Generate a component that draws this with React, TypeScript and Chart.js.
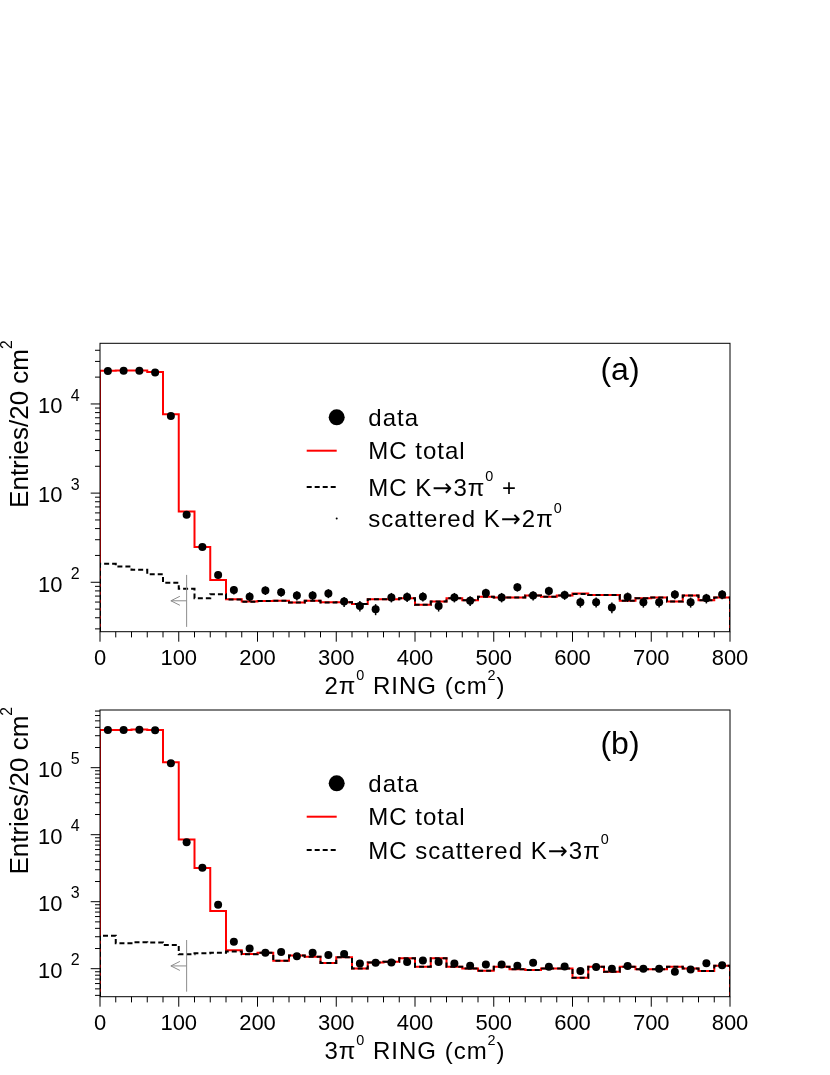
import React, { useEffect, useRef } from "react";
import { Chart, registerables } from "chart.js";

Chart.register(...registerables);

const FONT = '"Liberation Sans", Arial, Helvetica, sans-serif';
const ARROW_FONT = '"DejaVu Sans", sans-serif';

// ---------- shared axis data ----------
const binEdges = [0, 20, 40, 60, 80, 100, 120, 140, 160, 180, 200, 220, 240, 260, 280, 300, 320, 340, 360, 380, 400,
  420, 440, 460, 480, 500, 520, 540, 560, 580, 600, 620, 640, 660, 680, 700, 720, 740, 760, 780, 800];
const binCenters = [10, 30, 50, 70, 90, 110, 130, 150, 170, 190, 210, 230, 250, 270, 290, 310, 330, 350, 370, 390,
  410, 430, 450, 470, 490, 510, 530, 550, 570, 590, 610, 630, 650, 670, 690, 710, 730, 750, 770, 790];
const xTickValues = [0, 100, 200, 300, 400, 500, 600, 700, 800];
const xTickLabels = ["0", "100", "200", "300", "400", "500", "600", "700", "800"];

// ---------- panel (a): 2pi0 ring ----------
const dataA = [23400, 23500, 23500, 22600, 7330, 572, 248, 121, 82, 69, 81, 77.5, 71, 71, 75, 60.7, 54.3, 49.8, 67.7, 68.5,
  69, 54.3, 67.7, 62, 76, 67.7, 88, 71, 80, 72, 59.7, 59.7, 52, 68.5, 59.7, 59.7, 73, 59.7, 66, 73];
const mcTotalA = [23500, 23700, 23700, 22800, 7660, 620, 248, 106, 64.5, 60.7, 61.5, 62, 59.5, 62, 59.7, 59.7, 57, 64.5, 64.5, 66,
  56, 60.7, 66, 63, 69, 67.7, 67.7, 71, 69, 71, 75, 72, 72, 62, 66, 67.7, 60.7, 71, 63, 67.7];
const mcBkgA = [161, 150, 138, 123, 99, 84.4, 66.4, 73.5, 64, 60.5, 61.5, 62, 59.5, 62, 59.5, 59.7, 57, 64.5, 64.5, 66,
  56, 60.7, 66, 63, 69, 67.7, 67.7, 71, 69, 71, 74, 72, 72, 62, 66, 67.7, 60.7, 71, 63, 67.7];
const yDecadesA = [2, 3, 4];
const yRangeA = [27.9, 47900];
const cutA = { x: 110, tipX: 90, yTop: 121, yBottom: 31.6, yArrow: 62 };

// ---------- panel (b): 3pi0 ring ----------
const dataB = [365000, 365000, 369000, 361000, 116000, 7690, 3210, 902, 253, 201, 173, 177, 153, 173, 160, 166, 120, 123, 124, 126,
  132, 126, 120, 111, 116, 116, 111, 123, 107, 108, 92, 106, 100, 110, 100, 100, 90, 97, 121, 113];
const mcTotalB = [365000, 365000, 372000, 365000, 121000, 8510, 3180, 727, 188, 166, 173, 131, 158, 151, 122, 148, 101, 124, 127, 143,
  107, 143, 107, 101, 93, 107, 98, 95.5, 101, 101, 73, 107, 90, 107, 98, 98, 107, 101, 92, 111];
const mcBkgB = [311, 240, 248, 246, 226, 164, 170, 173, 180, 164, 173, 131, 158, 151, 122, 148, 101, 124, 127, 143,
  107, 143, 107, 101, 93, 107, 98, 95.5, 101, 101, 73, 107, 90, 107, 98, 98, 107, 101, 92, 111];
const yDecadesB = [2, 3, 4, 5];
const yRangeB = [38.2, 726000];
const cutB = { x: 110, tipX: 90, yTop: 268, yBottom: 45.4, yArrow: 110 };

// ---------- helpers ----------
type Seg = { t: string; sup?: boolean; arrow?: boolean };
type LegendItem = { kind: "dot" | "line" | "dash" | "tiny"; y: number; text: Seg[] };

function segFont(s: Seg, size: number) {
  const sz = s.sup ? size * 0.6 : size;
  return `${sz}px ${s.arrow ? ARROW_FONT : FONT}`;
}

function drawRich(ctx: CanvasRenderingContext2D, segs: Seg[], x: number, y: number, size: number,
  align: "left" | "center" | "right", spacing = 0) {
  (ctx as any).letterSpacing = spacing + "px";
  const widths = segs.map((s) => {
    ctx.font = segFont(s, size);
    return ctx.measureText(s.t).width;
  });
  const total = widths.reduce((a, b) => a + b, 0);
  let cx = align === "center" ? x - total / 2 : align === "right" ? x - total : x;
  ctx.textAlign = "left";
  ctx.textBaseline = "alphabetic";
  segs.forEach((s, i) => {
    ctx.font = segFont(s, size);
    ctx.fillText(s.t, cx, s.sup ? y - size * 0.6 : y);
    cx += widths[i];
  });
  (ctx as any).letterSpacing = "0px";
}

function histPoints(vals: number[], floor: number) {
  const pts: { x: number; y: number }[] = [{ x: binEdges[0], y: floor }];
  vals.forEach((v, i) => {
    pts.push({ x: binEdges[i], y: v });
    pts.push({ x: binEdges[i + 1], y: v });
  });
  pts.push({ x: binEdges[vals.length], y: floor });
  return pts;
}

interface PanelCfg {
  top: number;
  height: number;
  padTop: number;
  padBottom: number;
  yRange: number[];
  decades: number[];
  data: number[];
  total: number[];
  bkg: number[];
  cut: { x: number; tipX: number; yTop: number; yBottom: number; yArrow: number };
  legend: LegendItem[];
  tag: string;
  tagBaseline: number;
  xTitle: Seg[];
}

function line(ctx: CanvasRenderingContext2D, x1: number, y1: number, x2: number, y2: number) {
  ctx.beginPath();
  ctx.moveTo(x1, y1);
  ctx.lineTo(x2, y2);
  ctx.stroke();
}

function makeDecor(cfg: PanelCfg) {
  return {
    id: "decor",
    afterDatasetsDraw(chart: any) {
      const ctx: CanvasRenderingContext2D = chart.ctx;
      const xs = chart.scales.x;
      const ys = chart.scales.y;
      ctx.save();
      ctx.strokeStyle = "#000";
      ctx.lineWidth = 1.5;
      cfg.data.forEach((v, i) => {
        const err = Math.sqrt(v); // Poisson uncertainty
        const px = xs.getPixelForValue(binCenters[i]);
        line(ctx, px, ys.getPixelForValue(v + err), px, ys.getPixelForValue(Math.max(v - err, cfg.yRange[0])));
      });
      ctx.restore();
    },
    afterDraw(chart: any) {
      const ctx: CanvasRenderingContext2D = chart.ctx;
      const a = chart.chartArea;
      const xs = chart.scales.x;
      const ys = chart.scales.y;
      const off = cfg.top;
      ctx.save();
      ctx.fillStyle = "#000";
      ctx.strokeStyle = "#000";
      ctx.lineWidth = 1;
      // frame
      ctx.strokeRect(a.left, a.top, a.right - a.left, a.bottom - a.top);
      // x ticks
      for (let v = binEdges[0]; v <= binEdges[binEdges.length - 1]; v += 20) {
        const px = xs.getPixelForValue(v);
        line(ctx, px, a.bottom, px, a.bottom + (v % 100 === 0 ? 10 : 5.7));
      }
      ctx.font = `22px ${FONT}`;
      ctx.textAlign = "center";
      ctx.textBaseline = "alphabetic";
      xTickValues.forEach((v, i) => ctx.fillText(xTickLabels[i], xs.getPixelForValue(v), a.bottom + 33.3));
      // y ticks (log)
      const e0 = Math.floor(Math.log10(cfg.yRange[0]));
      const e1 = Math.ceil(Math.log10(cfg.yRange[1]));
      for (let e = e0; e <= e1; e++) {
        for (let m = 1; m <= 9; m++) {
          const v = m * Math.pow(10, e);
          if (v < cfg.yRange[0] || v > cfg.yRange[1]) continue;
          const py = ys.getPixelForValue(v);
          line(ctx, a.left - (m === 1 ? 9.3 : 5), py, a.left, py);
        }
      }
      cfg.decades.forEach((e) => {
        const py = ys.getPixelForValue(Math.pow(10, e));
        ctx.font = `22px ${FONT}`;
        ctx.textAlign = "right";
        ctx.fillText("10", a.left - 37.5, py + 9.3);
        ctx.font = `16px ${FONT}`;
        ctx.textAlign = "left";
        ctx.fillText(String(e), a.left - 29.3, py - 3.3);
      });
      // y title
      ctx.save();
      ctx.translate(28, a.top - 3);
      ctx.rotate(-Math.PI / 2);
      drawRich(ctx, [{ t: "Entries/20 cm" }, { t: "2", sup: true }], 0, 0, 26, "right", 0);
      ctx.restore();
      // x title
      drawRich(ctx, cfg.xTitle, (a.left + a.right) / 2, a.bottom + 62.3, 24, "center", 1);
      // panel tag
      drawRich(ctx, [{ t: cfg.tag }], 620, cfg.tagBaseline - off, 32, "center");
      // legend
      cfg.legend.forEach((it) => {
        const y = it.y - off;
        if (it.kind === "dot") {
          ctx.beginPath();
          ctx.arc(336.7, y, 8, 0, Math.PI * 2);
          ctx.fill();
        } else if (it.kind === "tiny") {
          ctx.beginPath();
          ctx.arc(336.7, y, 1, 0, Math.PI * 2);
          ctx.fill();
        } else {
          ctx.save();
          ctx.lineWidth = 2;
          ctx.strokeStyle = it.kind === "line" ? "#ff0000" : "#000";
          if (it.kind === "dash") ctx.setLineDash([5, 3]);
          line(ctx, 306.7, y, 336.7, y);
          ctx.restore();
        }
        drawRich(ctx, it.text, 368.3, y + 8.6, 24, "left", 1);
      });
      // cut line with arrow
      const c = cfg.cut;
      const cx = xs.getPixelForValue(c.x);
      const tx = xs.getPixelForValue(c.tipX);
      const ay = ys.getPixelForValue(c.yArrow);
      ctx.strokeStyle = "#8c8c8c";
      ctx.lineWidth = 1;
      line(ctx, cx, ys.getPixelForValue(c.yTop), cx, ys.getPixelForValue(c.yBottom));
      line(ctx, cx, ay, tx, ay);
      line(ctx, tx, ay, tx + 9, ay - 4.5);
      line(ctx, tx, ay, tx + 9, ay + 4.5);
      ctx.restore();
    },
  };
}

function Panel({ cfg }: { cfg: PanelCfg }) {
  const ref = useRef<HTMLCanvasElement>(null);
  useEffect(() => {
    const canvas = ref.current!;
    const floor = cfg.yRange[0];
    const chart = new Chart(canvas, {
      type: "line",
      data: {
        datasets: [
          {
            label: "data",
            data: binCenters.map((x, i) => ({ x, y: cfg.data[i] })),
            showLine: false,
            pointRadius: 4,
            pointBackgroundColor: "#000",
            pointBorderColor: "#000",
            pointBorderWidth: 0,
            order: 0,
          },
          {
            label: "bkg",
            data: histPoints(cfg.bkg, floor),
            borderColor: "#000",
            borderWidth: 2,
            borderDash: [5, 3],
            pointRadius: 0,
            fill: false,
            tension: 0,
            order: 1,
          },
          {
            label: "total",
            data: histPoints(cfg.total, floor),
            borderColor: "#ff0000",
            borderWidth: 2,
            pointRadius: 0,
            fill: false,
            tension: 0,
            order: 2,
          },
        ],
      } as any,
      options: {
        animation: false,
        responsive: false,
        maintainAspectRatio: false,
        devicePixelRatio: 1,
        events: [],
        layout: { padding: { left: 100, right: 100, top: cfg.padTop, bottom: cfg.padBottom } },
        scales: {
          x: { type: "linear", min: 0, max: 800, display: false },
          y: { type: "logarithmic", min: cfg.yRange[0], max: cfg.yRange[1], display: false },
        },
        plugins: { legend: { display: false }, tooltip: { enabled: false } },
      } as any,
      plugins: [makeDecor(cfg) as any],
    });
    return () => chart.destroy();
  }, [cfg]);
  return (
    <canvas
      ref={ref}
      width={830}
      height={cfg.height}
      style={{ position: "absolute", left: 0, top: cfg.top, width: 830, height: cfg.height }}
    />
  );
}

const panelA: PanelCfg = {
  top: 330,
  height: 370,
  padTop: 13.3,
  padBottom: 68.3,
  yRange: yRangeA,
  decades: yDecadesA,
  data: dataA,
  total: mcTotalA,
  bkg: mcBkgA,
  cut: cutA,
  tag: "(a)",
  tagBaseline: 380,
  xTitle: [{ t: "2π" }, { t: "0", sup: true }, { t: " RING (cm" }, { t: "2", sup: true }, { t: ")" }],
  legend: [
    { kind: "dot", y: 417.3, text: [{ t: "data" }] },
    { kind: "line", y: 450.7, text: [{ t: "MC total" }] },
    { kind: "dash", y: 487, text: [{ t: "MC K" }, { t: "→", arrow: true }, { t: "3π" }, { t: "0", sup: true }, { t: " +" }] },
    { kind: "tiny", y: 518.4, text: [{ t: "scattered K" }, { t: "→", arrow: true }, { t: "2π" }, { t: "0", sup: true }] },
  ],
};

const panelB: PanelCfg = {
  top: 700,
  height: 375,
  padTop: 10,
  padBottom: 78.3,
  yRange: yRangeB,
  decades: yDecadesB,
  data: dataB,
  total: mcTotalB,
  bkg: mcBkgB,
  cut: cutB,
  tag: "(b)",
  tagBaseline: 753.5,
  xTitle: [{ t: "3π" }, { t: "0", sup: true }, { t: " RING (cm" }, { t: "2", sup: true }, { t: ")" }],
  legend: [
    { kind: "dot", y: 783.3, text: [{ t: "data" }] },
    { kind: "line", y: 816.7, text: [{ t: "MC total" }] },
    { kind: "dash", y: 850, text: [{ t: "MC scattered K" }, { t: "→", arrow: true }, { t: "3π" }, { t: "0", sup: true }] },
  ],
};

export default function App() {
  return (
    <div style={{ position: "absolute", left: 0, top: 0, width: 830, height: 1075, background: "#fff" }}>
      <Panel cfg={panelA} />
      <Panel cfg={panelB} />
    </div>
  );
}
